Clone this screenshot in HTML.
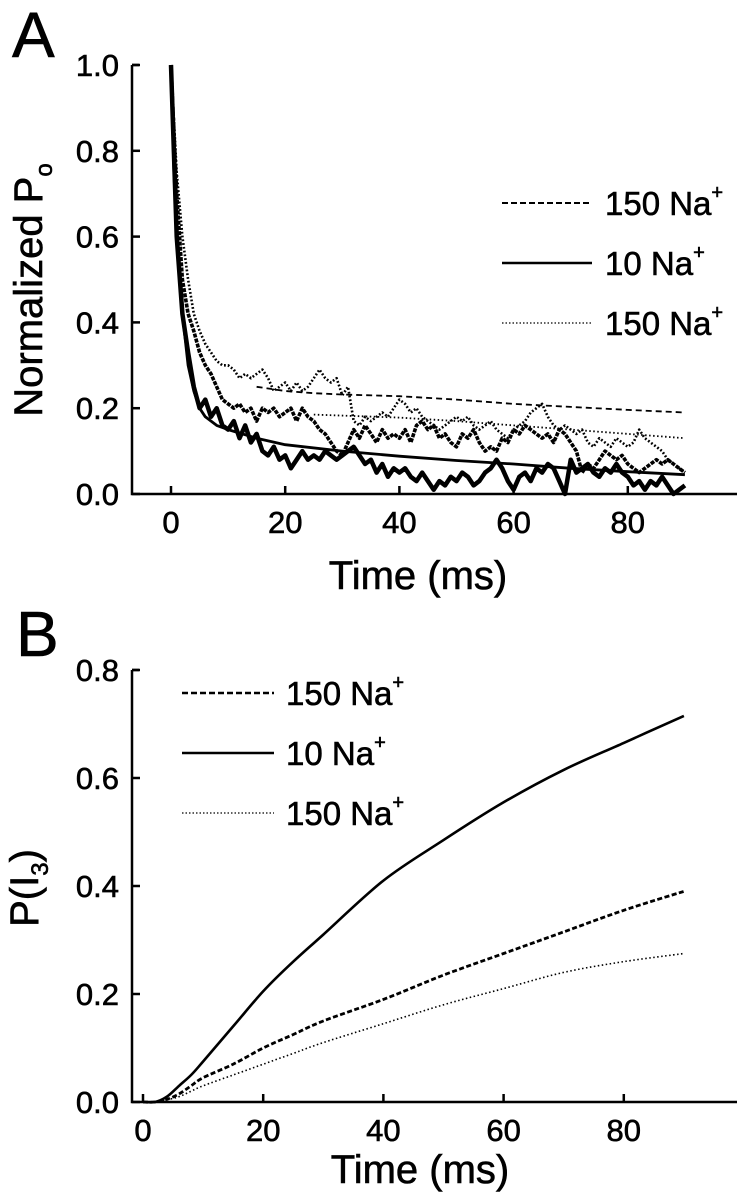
<!DOCTYPE html>
<html><head><meta charset="utf-8">
<style>
html,body{margin:0;padding:0;background:#fff;}
svg{display:block;font-family:"Liberation Sans",Arial,sans-serif;}
text{stroke:#000;stroke-width:0.6;}
</style></head>
<body>
<svg id="fig" width="747" height="1199" viewBox="0 0 747 1199" xmlns="http://www.w3.org/2000/svg">
<g id="pa"></g>
<g id="pb"></g>
</svg>
<script>
// ---------- Panel A data ----------
const aTicksX = [0,20,40,60,80];
const aTicksY = [0.0,0.2,0.4,0.6,0.8,1.0];
const aTickYLabels = ["0.0","0.2","0.4","0.6","0.8","1.0"];
const aDataTimeStep = 1;
const a10Data = [1.0,0.6,0.42,0.33,0.25,0.2,0.22,0.18,0.2,0.16,0.15,0.17,0.13,0.16,0.12,0.14,0.1,0.09,0.11,0.08,0.09,0.06,0.08,0.1,0.08,0.09,0.08,0.1,0.09,0.08,0.09,0.1,0.11,0.09,0.07,0.08,0.05,0.07,0.04,0.06,0.05,0.06,0.04,0.03,0.05,0.03,0.01,0.03,0.02,0.04,0.03,0.05,0.04,0.02,0.03,0.05,0.06,0.08,0.06,0.03,0.01,0.04,0.05,0.03,0.06,0.05,0.07,0.06,0.03,0.0,0.08,0.05,0.06,0.07,0.05,0.04,0.06,0.05,0.07,0.05,0.04,0.02,0.03,0.01,0.03,0.02,0.04,0.02,0.0,0.01,0.02];
const a150DashData = [1,0.7,0.5,0.42,0.38,0.33,0.3,0.28,0.25,0.22,0.21,0.2,0.21,0.19,0.2,0.17,0.2,0.19,0.2,0.18,0.19,0.2,0.17,0.2,0.18,0.17,0.15,0.14,0.12,0.1,0.09,0.12,0.15,0.13,0.16,0.14,0.12,0.15,0.13,0.14,0.13,0.15,0.12,0.16,0.17,0.15,0.16,0.13,0.14,0.12,0.11,0.14,0.13,0.15,0.12,0.1,0.11,0.1,0.13,0.12,0.15,0.14,0.16,0.15,0.14,0.13,0.14,0.12,0.15,0.14,0.12,0.1,0.05,0.07,0.06,0.08,0.1,0.09,0.08,0.09,0.07,0.06,0.05,0.06,0.07,0.08,0.07,0.08,0.07,0.06,0.05];
const a150DotData = [1,0.75,0.6,0.5,0.42,0.38,0.35,0.33,0.31,0.3,0.3,0.29,0.27,0.28,0.27,0.28,0.29,0.27,0.24,0.25,0.26,0.24,0.26,0.24,0.25,0.27,0.29,0.27,0.26,0.27,0.23,0.25,0.17,0.16,0.18,0.17,0.18,0.19,0.18,0.2,0.22,0.21,0.19,0.2,0.18,0.17,0.16,0.15,0.16,0.17,0.18,0.17,0.18,0.16,0.15,0.16,0.17,0.15,0.14,0.13,0.15,0.16,0.17,0.19,0.2,0.21,0.18,0.16,0.15,0.16,0.15,0.14,0.15,0.12,0.11,0.13,0.12,0.11,0.13,0.12,0.11,0.12,0.15,0.13,0.12,0.11,0.1,0.08,0.07,0.06,0.05];
const aSolidFitT = [0,0.5,1,2,3,4,5,6,8,10,15,20,30,40,50,60,70,80,90];
const aSolidFitV = [1,0.75,0.6,0.42,0.3,0.24,0.2,0.18,0.16,0.15,0.13,0.115,0.1,0.088,0.078,0.07,0.06,0.052,0.045];
const aDashFitT = [15,20,25,30,40,50,60,70,80,90];
const aDashFitV = [0.25,0.24,0.235,0.232,0.228,0.22,0.21,0.203,0.196,0.19];
const aDotFitT = [25,40,50,60,70,80,90];
const aDotFitV = [0.185,0.178,0.17,0.16,0.15,0.14,0.13];
// ---------- Panel B data ----------
const bTicksX = [0,20,40,60,80];
const bTicksY = [0.0,0.2,0.4,0.6,0.8];
const bTickYLabels = ["0.0","0.2","0.4","0.6","0.8"];
const bT = [0,2,4,6,8,10,15,20,25,30,40,50,60,70,80,90];
const bSolid = [0,0,0.01,0.03,0.05,0.075,0.14,0.205,0.26,0.31,0.41,0.485,0.555,0.615,0.665,0.715];
const bDash = [0,0,0.005,0.015,0.03,0.045,0.07,0.10,0.125,0.15,0.19,0.235,0.275,0.315,0.355,0.39];
const bDot = [0,0,0.004,0.01,0.02,0.03,0.05,0.07,0.09,0.11,0.145,0.18,0.21,0.24,0.26,0.275];

const NS="http://www.w3.org/2000/svg";
function mk(parent,tag,attrs){const e=document.createElementNS(NS,tag);for(const k in attrs)e.setAttribute(k,attrs[k]);parent.appendChild(e);return e;}
function pathFrom(ts,vs,sx,sy){return ts.map((t,i)=>(i?'L':'M')+sx(t).toFixed(1)+','+sy(vs[i]).toFixed(1)).join('');}
function smoothFrom(ts,vs,sx,sy){
  const p=ts.map((t,i)=>[sx(t),sy(vs[i])]);
  let d='M'+p[0][0].toFixed(1)+','+p[0][1].toFixed(1);
  for(let i=0;i<p.length-1;i++){
    const p0=p[Math.max(0,i-1)],p1=p[i],p2=p[i+1],p3=p[Math.min(p.length-1,i+2)];
    const c1x=p1[0]+(p2[0]-p0[0])/6,c1y=p1[1]+(p2[1]-p0[1])/6;
    const c2x=p2[0]-(p3[0]-p1[0])/6,c2y=p2[1]-(p3[1]-p1[1])/6;
    d+=`C${c1x.toFixed(1)},${c1y.toFixed(1)} ${c2x.toFixed(1)},${c2y.toFixed(1)} ${p2[0].toFixed(1)},${p2[1].toFixed(1)}`;
  }
  return d;
}

function axes(g,o){
  const line=mk(g,'path',{d:`M${o.ax},${o.yTop}L${o.ax},${o.ay}L${o.xEnd},${o.ay}M${o.ax},${o.yTop}L${o.ax+7},${o.yTop}`,fill:'none',stroke:'#000','stroke-width':2.5});
  
  
  o.ticksX.forEach(v=>{
    const t=mk(g,'line',{x1:o.sx(v),x2:o.sx(v),y1:o.ay,y2:o.ay-8,stroke:'#000','stroke-width':2.5});
    
    
    const l=mk(g,'text',{x:o.sx(v),y:o.ay+39,'text-anchor':'middle','font-size':31});
    l.textContent=v;
    
    
  });
  o.ticksY.forEach((v,i)=>{
    const t=mk(g,'line',{x1:o.ax,x2:o.ax+8,y1:o.sy(v),y2:o.sy(v),stroke:'#000','stroke-width':2.5});
    
    
    const l=mk(g,'text',{x:o.ax-13,y:o.sy(v)+11,'text-anchor':'end','font-size':31});
    l.textContent=o.ylabels[i];
    
    
  });
}
function series(g,d,dash,w,name){
  const p=mk(g,'path',{d:d,fill:'none',stroke:'#000','stroke-width':w,'stroke-dasharray':dash,'stroke-linejoin':'round'});
  
  
}
function legend(g,x1,x2,tx,y,dash,w,label,name){
  const l=mk(g,'line',{x1:x1,x2:x2,y1:y,y2:y,stroke:'#000','stroke-width':w,'stroke-dasharray':dash});
  
  
  const t=mk(g,'text',{x:tx,y:y+12,'font-size':33});
  t.innerHTML=label+'<tspan dy="-16" font-size="20">+</tspan>';
  
  
}

// ----- Panel A -----
(function(){
  const g=document.getElementById('pa');
  const sx=t=>171+t*5.71, sy=v=>494-v*429;
  axes(g,{ax:132,ay:494,yTop:65,xEnd:737,sx,sy,ticksX:aTicksX,ticksY:aTicksY,ylabels:aTickYLabels});
  const ts=a10Data.map((_,i)=>i*aDataTimeStep);
  series(g,pathFrom(ts,a150DotData,sx,sy),'1.8 2',2.6,'series-150-dotted-data');
  series(g,pathFrom(ts,a150DashData,sx,sy),'4 1.2',3.6,'series-150-dashed-data');
  series(g,pathFrom(ts,a10Data,sx,sy),'',4.5,'series-10-data');
  series(g,pathFrom(aSolidFitT,aSolidFitV,sx,sy),'',2.8,'fit-10-solid');
  series(g,pathFrom(aDashFitT,aDashFitV,sx,sy),'6 4',1.8,'fit-150-dashed');
  series(g,pathFrom(aDotFitT,aDotFitV,sx,sy),'1.5 2.5',1.8,'fit-150-dotted');
  legend(g,502,592,605,203,'6 3',2,'150 Na','legend-150-dashed');
  legend(g,502,592,605,263,'',2.5,'10 Na','legend-10-solid');
  legend(g,502,592,605,323,'1.5 2',1.3,'150 Na','legend-150-dotted');
  const A=mk(g,'text',{x:12,y:57,'font-size':64});A.textContent='A';
  
  
  const yl=mk(g,'text',{x:0,y:0,'font-size':40,'text-anchor':'middle',transform:'translate(42,290) rotate(-90)'});
  yl.innerHTML='Normalized P<tspan dy="10" font-size="24">o</tspan>';
  
  
  const xl=mk(g,'text',{x:418,y:589,'font-size':40,'text-anchor':'middle'});xl.textContent='Time (ms)';
  
  
})();

// ----- Panel B -----
(function(){
  const g=document.getElementById('pb');
  const sx=t=>143+t*6.01, sy=v=>1102-v*540;
  axes(g,{ax:132,ay:1102,yTop:670,xEnd:737,sx,sy,ticksX:bTicksX,ticksY:bTicksY,ylabels:bTickYLabels});
  series(g,smoothFrom(bT,bSolid,sx,sy),'',2.6,'series-10-solid');
  series(g,smoothFrom(bT,bDash,sx,sy),'5 2.5',2.8,'series-150-dashed');
  series(g,smoothFrom(bT,bDot,sx,sy),'1.5 2.5',1.6,'series-150-dotted');
  legend(g,182,274,286,693,'6 3',2.5,'150 Na','legend-b-150-dashed');
  legend(g,182,274,286,753,'',2.5,'10 Na','legend-b-10-solid');
  legend(g,182,274,286,813,'1.5 2',1.3,'150 Na','legend-b-150-dotted');
  const B=mk(g,'text',{x:16,y:656,'font-size':64});B.textContent='B';
  
  
  const yl=mk(g,'text',{x:0,y:0,'font-size':40,'text-anchor':'middle',transform:'translate(38,888) rotate(-90)'});
  yl.innerHTML='P(I<tspan dy="10" font-size="24">3</tspan><tspan dy="-10">)</tspan>';
  
  
  const xl=mk(g,'text',{x:420,y:1183,'font-size':40,'text-anchor':'middle'});xl.textContent='Time (ms)';
  
  
})();
</script>
</body></html>
